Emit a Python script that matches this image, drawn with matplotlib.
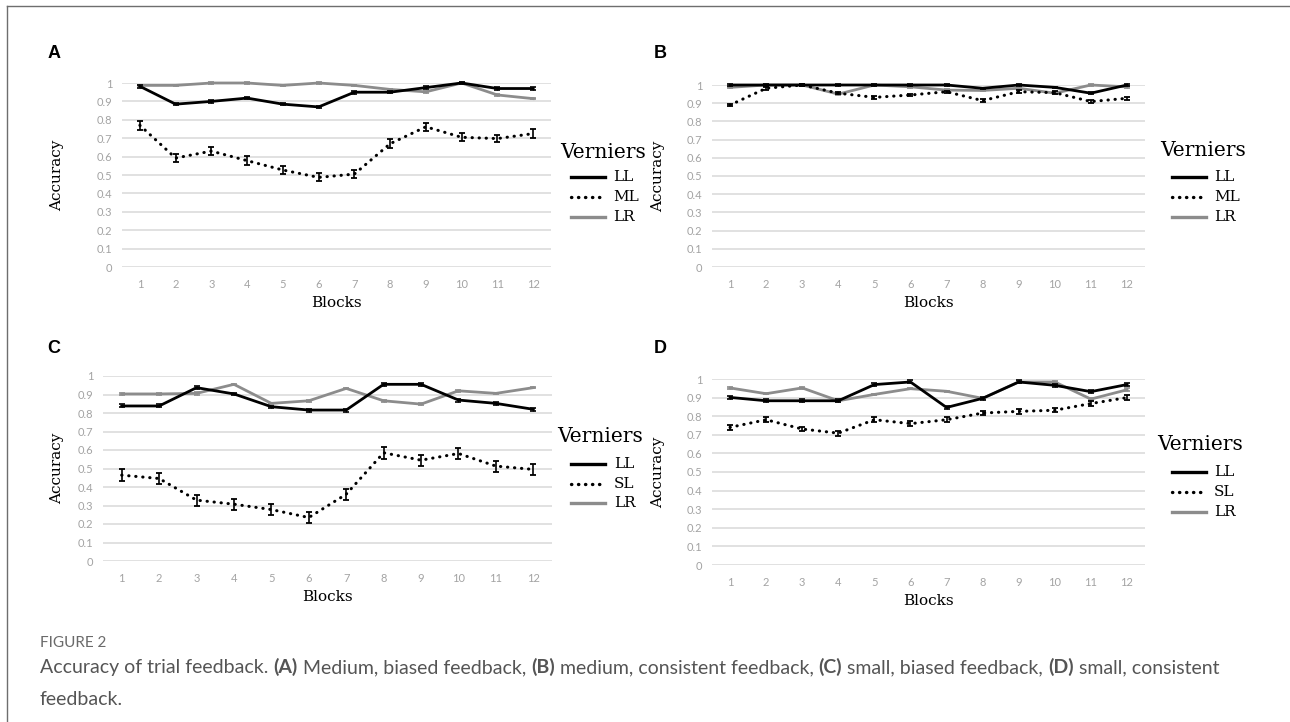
import matplotlib
matplotlib.use("Agg")
import matplotlib.pyplot as plt
from matplotlib.lines import Line2D

# data
blocks = [1, 2, 3, 4, 5, 6, 7, 8, 9, 10, 11, 12]
y_ticks = [0, 0.1, 0.2, 0.3, 0.4, 0.5, 0.6, 0.7, 0.8, 0.9, 1]
y_tick_labels = ["0", "0.1", "0.2", "0.3", "0.4", "0.5", "0.6", "0.7", "0.8", "0.9", "1"]

# (A) medium, biased
a_ll = [0.982, 0.885, 0.900, 0.918, 0.885, 0.870, 0.950, 0.950, 0.975, 1.000, 0.970, 0.970]
a_ml = [0.770, 0.592, 0.630, 0.578, 0.527, 0.487, 0.505, 0.670, 0.762, 0.705, 0.698, 0.725]
a_lr = [0.987, 0.987, 1.000, 1.000, 0.987, 1.000, 0.987, 0.965, 0.952, 1.000, 0.935, 0.915]
a_ll_err = [0.008, 0.007, 0.007, 0.007, 0.007, 0.007, 0.008, 0.007, 0.007, 0.004, 0.007, 0.008]
a_ml_err = [0.025, 0.024, 0.022, 0.024, 0.022, 0.022, 0.022, 0.024, 0.022, 0.022, 0.020, 0.026]
a_lr_err = [0.004, 0.004, 0.003, 0.003, 0.004, 0.003, 0.004, 0.004, 0.005, 0.003, 0.005, 0.004]

# (B) medium, consistent
b_ll = [1.000, 1.000, 1.000, 1.000, 1.000, 1.000, 1.000, 0.982, 1.000, 0.987, 0.955, 1.000]
b_ml = [0.890, 0.982, 1.000, 0.955, 0.932, 0.945, 0.963, 0.914, 0.963, 0.958, 0.909, 0.927]
b_lr = [0.987, 1.000, 1.000, 0.950, 1.000, 0.990, 0.972, 0.970, 0.982, 0.955, 1.000, 0.990]
b_ll_err = [0.004, 0.003, 0.003, 0.003, 0.003, 0.003, 0.003, 0.004, 0.003, 0.004, 0.005, 0.004]
b_ml_err = [0.007, 0.008, 0.003, 0.007, 0.007, 0.007, 0.006, 0.007, 0.007, 0.007, 0.008, 0.007]
b_lr_err = [0.004, 0.003, 0.003, 0.005, 0.003, 0.004, 0.004, 0.004, 0.004, 0.005, 0.003, 0.004]

# (C) small, biased
c_ll = [0.838, 0.838, 0.937, 0.903, 0.834, 0.816, 0.816, 0.955, 0.955, 0.870, 0.852, 0.820]
c_sl = [0.464, 0.446, 0.329, 0.307, 0.278, 0.235, 0.361, 0.585, 0.545, 0.581, 0.513, 0.495]
c_lr = [0.903, 0.903, 0.906, 0.955, 0.852, 0.866, 0.933, 0.866, 0.848, 0.920, 0.906, 0.937]
c_ll_err = [0.008, 0.008, 0.008, 0.007, 0.006, 0.008, 0.008, 0.008, 0.008, 0.008, 0.007, 0.008]
c_sl_err = [0.032, 0.030, 0.030, 0.030, 0.030, 0.030, 0.030, 0.032, 0.030, 0.030, 0.030, 0.030]
c_lr_err = [0.004, 0.004, 0.006, 0.004, 0.004, 0.004, 0.004, 0.004, 0.004, 0.004, 0.004, 0.004]

# (D) small, consistent
d_ll = [0.901, 0.883, 0.883, 0.883, 0.970, 0.984, 0.847, 0.896, 0.984, 0.966, 0.932, 0.970]
d_sl = [0.740, 0.781, 0.731, 0.709, 0.781, 0.760, 0.781, 0.817, 0.826, 0.832, 0.868, 0.900]
d_lr = [0.952, 0.921, 0.952, 0.883, 0.917, 0.948, 0.934, 0.896, 0.984, 0.984, 0.892, 0.942]
d_ll_err = [0.008, 0.009, 0.008, 0.008, 0.008, 0.008, 0.007, 0.008, 0.008, 0.008, 0.008, 0.010]
d_sl_err = [0.014, 0.013, 0.013, 0.013, 0.013, 0.014, 0.013, 0.013, 0.012, 0.012, 0.012, 0.014]
d_lr_err = [0.004, 0.004, 0.004, 0.004, 0.004, 0.004, 0.004, 0.004, 0.006, 0.004, 0.005, 0.008]

W, H = 1290, 722
SERIF = "DejaVu Serif"
SANS = "Lato"
GRAY = "#8c8c8c"


def fx(px):
    return px / W


def fy(py):
    return 1 - py / H


fig = plt.figure(figsize=(W / 100, H / 100), dpi=100)

# frame on the left and top
fig.add_artist(Line2D([fx(7), fx(7)], [0, fy(6)], transform=fig.transFigure, color="#6e6e6e", lw=1))
fig.add_artist(Line2D([fx(7), 1], [fy(6), fy(6)], transform=fig.transFigure, color="#6e6e6e", lw=1))


def no_clip(container):
    for child in container.get_children():
        child.set_clip_on(False)


def draw_panel(box, ll, mid, lr, ll_err, mid_err, lr_err, ylab_x):
    x0, y0, x1, y1 = box
    ax = fig.add_axes([fx(x0), fy(y1), (x1 - x0) / W, (y1 - y0) / H])
    ax.set_xlim(0.5, 12.5)
    ax.set_ylim(0, 1)
    ax.set_yticks(y_ticks)
    ax.set_yticklabels(y_tick_labels)
    ax.set_xticks(blocks)
    ax.grid(axis="y", color="#d9d9d9", lw=1.1)
    ax.set_axisbelow(True)
    for s in ax.spines.values():
        s.set_visible(False)
    ax.tick_params(length=0, labelsize=8, labelcolor="#a3a3a3")
    ax.tick_params(axis="x", pad=8.5)
    ax.tick_params(axis="y", pad=7)
    for lab in ax.get_xticklabels() + ax.get_yticklabels():
        lab.set_family(SANS)

    e = ax.errorbar(blocks, lr, yerr=lr_err, color=GRAY, lw=2.0, capsize=2.5,
                    elinewidth=1.0, capthick=1.2, zorder=3)
    no_clip(e)
    e = ax.errorbar(blocks, ll, yerr=ll_err, color="black", lw=2.0, capsize=2.5,
                    elinewidth=1.0, capthick=1.2, zorder=4)
    no_clip(e)
    e = ax.errorbar(blocks, mid, yerr=mid_err, color="black", lw=2.2, capsize=2.5,
                    elinewidth=1.2, capthick=1.3, ls=(0, (0.1, 2.2)), zorder=5)
    e.lines[0].set_dash_capstyle("round")
    no_clip(e)

    ax.set_xlabel("Blocks", family=SERIF, fontsize=11, va="top")
    ax.xaxis.set_label_coords(0.5, -29 / (y1 - y0))
    ax.set_ylabel("Accuracy", family=SERIF, fontsize=11, va="center")
    ax.yaxis.set_label_coords((ylab_x - x0) / (x1 - x0), 0.5)
    return ax


def draw_legend(tx, ty, hx, lx, rows, mid_name):
    fig.text(fx(tx), fy(ty), "Verniers", family=SERIF, fontsize=14.5, va="center", ha="left")
    styles = [
        ("LL", dict(color="black", lw=2.4)),
        (mid_name, dict(color="black", lw=2.4, ls=(0, (0.1, 2.0)), dash_capstyle="round")),
        ("LR", dict(color=GRAY, lw=2.4)),
    ]
    for y, (name, st) in zip(rows, styles):
        fig.add_artist(Line2D([fx(hx), fx(hx + 34)], [fy(y), fy(y)], transform=fig.transFigure, **st))
        fig.text(fx(lx), fy(y), name, family=SERIF, fontsize=11, va="center", ha="left")


draw_panel((122, 83, 551, 267), a_ll, a_ml, a_lr, a_ll_err, a_ml_err, a_lr_err, 57)
draw_panel((712, 85, 1145, 267), b_ll, b_ml, b_lr, b_ll_err, b_ml_err, b_lr_err, 658)
draw_panel((103, 376, 552, 561), c_ll, c_sl, c_lr, c_ll_err, c_sl_err, c_lr_err, 57)
ax = draw_panel((712, 379, 1145, 565), d_ll, d_sl, d_lr, d_ll_err, d_sl_err, d_lr_err, 658)

draw_legend(560, 152, 571, 613, [177, 197, 217], "ML")
draw_legend(1160, 150, 1172, 1214, [177, 197, 217], "ML")
draw_legend(557, 437, 571, 614, [464, 484, 503], "SL")
draw_legend(1157, 445, 1172, 1214, [472, 492, 512], "SL")

for letter, (px, py) in zip("ABCD", [(54, 53), (660, 53), (54, 348), (660, 349)]):
    fig.text(fx(px), fy(py), letter, family="Liberation Sans", weight="bold", fontsize=13,
             ha="center", va="center")

# caption
cap_size = 14.0
cap_color = "#555555"
cap_x = 40
fig.text(fx(cap_x), fy(643), "FIGURE 2", family=SANS, fontsize=11, color="#6a6a6a", va="center")
pieces = [
    ("Accuracy of trial feedback. ", "normal"),
    ("(A)", "bold"), (" Medium, biased feedback, ", "normal"),
    ("(B)", "bold"), (" medium, consistent feedback, ", "normal"),
    ("(C)", "bold"), (" small, biased feedback, ", "normal"),
    ("(D)", "bold"), (" small, consistent", "normal"),
]
prev = fig.text(fx(cap_x), fy(676), pieces[0][0], family=SANS, fontsize=cap_size,
                color=cap_color, va="bottom")
for text, weight in pieces[1:]:
    prev = ax.annotate(text, xy=(1, 0), xycoords=prev, va="bottom", ha="left",
                       family=SANS, fontsize=cap_size, color=cap_color, weight=weight)
fig.text(fx(cap_x), fy(708), "feedback.", family=SANS, fontsize=cap_size, color=cap_color, va="bottom")

fig.savefig("out.png", dpi=100)
